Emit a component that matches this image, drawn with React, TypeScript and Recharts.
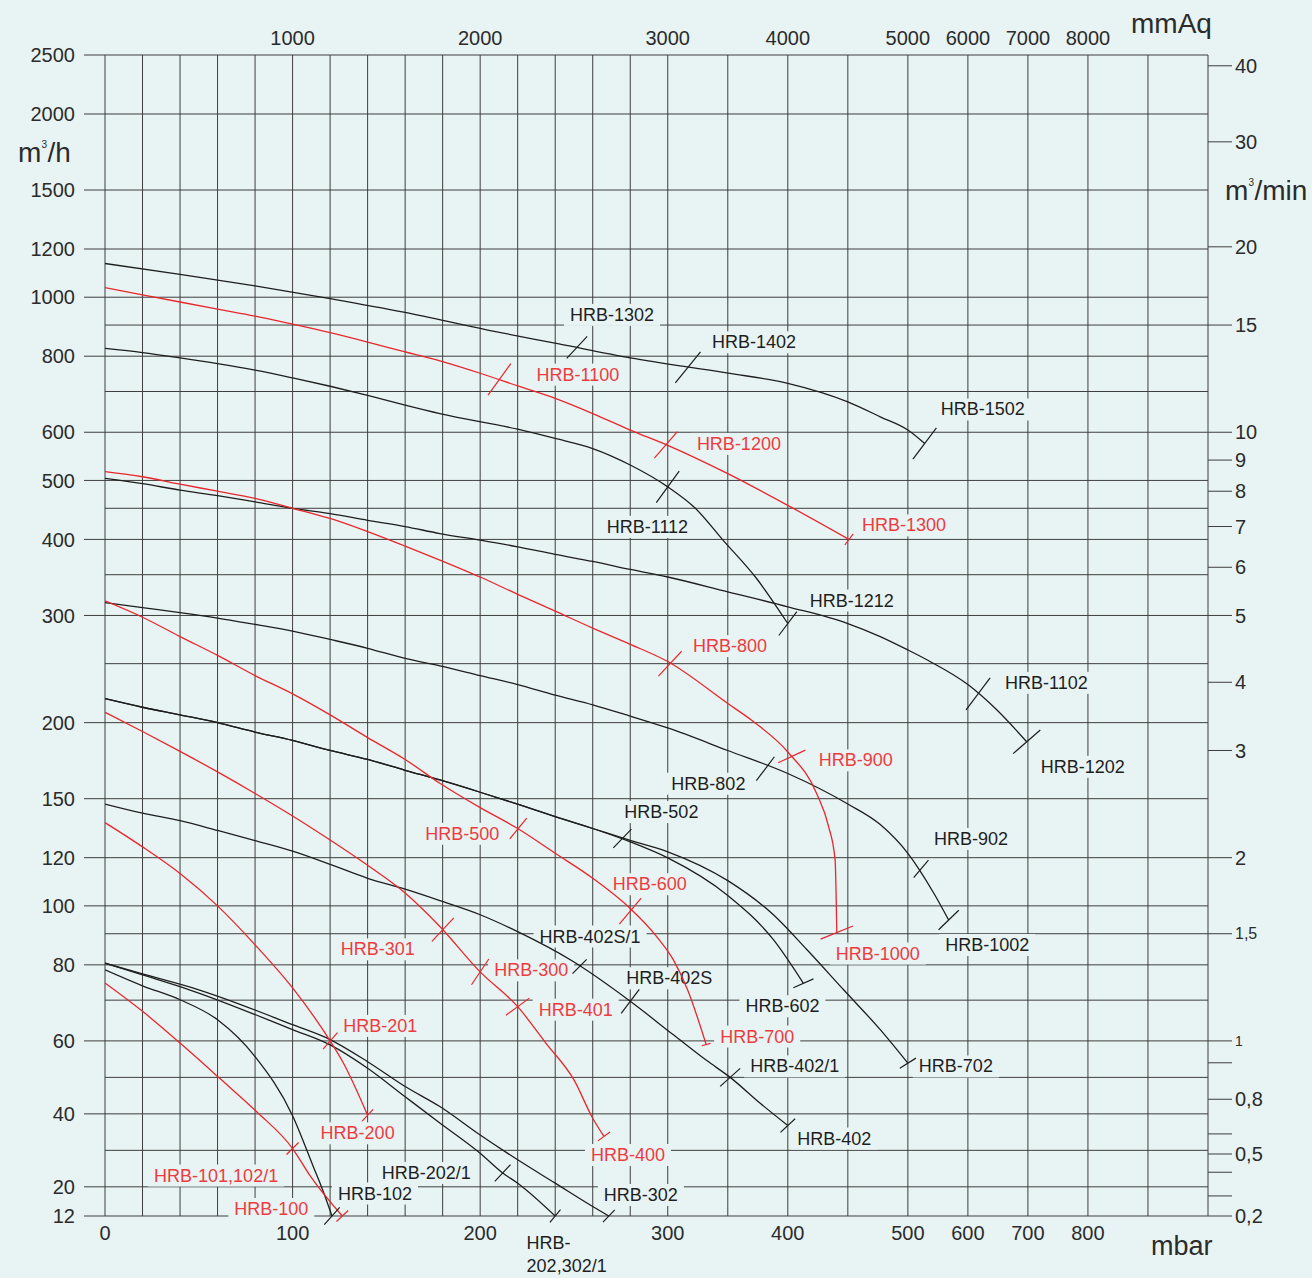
import { LineChart, Line, XAxis, YAxis, CartesianGrid, ReferenceDot } from "recharts";

type Pt = [number, number];

// pressure axis (mbar) and the mmAq labels printed on top
const MBAR_TICKS = [0, 100, 200, 300, 400, 500, 600, 700, 800];
const MMAQ_LABELS = ["", "1000", "2000", "3000", "4000", "5000", "6000", "7000", "8000"];
const MBAR_GRID = [0, 20, 40, 60, 80, 100, 120, 140, 160, 180, 200, 220, 240, 260, 280, 300, 350, 400, 450, 500, 600, 700, 800, 900, 1000];

// flow axis, m3/h on the left, m3/min on the right
const FLOW_TICKS = [12, 20, 40, 60, 80, 100, 120, 150, 200, 300, 400, 500, 600, 800, 1000, 1200, 1500, 2000, 2500];
const FLOW_GRID = [12, 20, 30, 40, 50, 60, 70, 80, 90, 100, 120, 150, 200, 250, 300, 350, 400, 450, 500, 600, 700, 800, 900, 1000, 1200, 1500, 2000, 2500];
const MIN_LABELS = ["40", "30", "20", "15", "10", "9", "8", "7", "6", "5", "4", "3", "2", "1,5", "1", "", "0,8", "", "0,5", "", "", "0,2"];
const MIN_FLOWS = [2400, 1800, 1210, 900, 600, 540, 480, 420, 360, 300, 233, 180, 120, 90, 60, 54, 44, 34.5, 29, 24, 17.5, 12];

// curves: [mbar, m3/h]
const C_1302_1502: Pt[] = [[0, 1136], [40, 1090], [80, 1044], [120, 995], [160, 944], [204, 883], [242, 838], [280, 795], [349, 751], [400, 722], [450, 673], [477, 636], [500, 605], [528, 575]];
const C_1112_1212: Pt[] = [[0, 824], [20, 811], [40, 795], [60, 778], [80, 759], [100, 737], [120, 714], [140, 690], [160, 665], [178.5, 644], [220, 607], [240, 586], [260, 564], [280, 530], [300, 488], [323, 450], [346, 399], [374, 345], [400, 291]];
const C_1102_1202: Pt[] = [[0, 504], [20, 494], [40, 482], [60, 472], [80, 461], [100, 450], [120, 441], [140, 430], [160, 420], [178.5, 409], [200, 399], [220, 389], [240, 378], [260, 368], [280, 357], [300, 347], [350, 328], [400, 310], [450, 291], [477, 277], [500, 263.3], [534, 253], [600, 231], [648, 210], [698, 186]];
const C_802_1002: Pt[] = [[0, 315], [20, 309], [40, 303.3], [60, 297.1], [80, 290], [100, 282.8], [120, 274], [140, 265], [160, 255], [178.5, 248], [200, 239], [220, 231], [240, 222], [260, 214], [280, 205], [300, 196], [350, 180], [400, 165], [450, 147], [477, 136], [500, 122], [543, 105], [568, 94.8]];
const C_502_SHARED: Pt[] = [[0, 219], [20, 212], [40, 206], [60, 200], [80, 193], [100, 187], [120, 180], [140, 174], [160, 167], [178.5, 161], [200, 153.7], [220, 146.9], [240, 140.2], [260, 134]];
const C_602_TAIL: Pt[] = [[280, 127.4], [300, 119.9], [350, 104], [388, 88], [413, 74.6]];
const C_702_TAIL: Pt[] = [[280, 128.1], [300, 122.7], [350, 110], [388, 96.7], [416, 84.7], [446.5, 72.8], [477, 62.6], [500, 53.9]];
const C_402: Pt[] = [[0, 147], [20, 142], [40, 138], [60, 133], [80, 128], [100, 123], [120, 117], [140, 111], [160, 106.5], [178.5, 102], [200, 96.7], [220, 90.7], [249.6, 81], [280, 69.7], [304.7, 61.4], [332.5, 54.6], [352, 50], [377, 42.9], [400, 36.8]];
const C_102: Pt[] = [[0, 78.5], [20, 73.9], [40, 70.1], [60, 65], [80, 55.7], [100, 39.5], [111, 25.6], [116, 19.2], [121, 12]];
const C_302: Pt[] = [[0, 80.5], [20, 77.3], [50, 72.8], [100, 63.8], [120, 60.3], [140, 54.3], [160, 47.5], [178.5, 42], [200, 34.2], [220, 27.4], [240, 21], [260, 14.6], [268.6, 12]];
const C_202_302_1: Pt[] = [[0, 80.5], [20, 77], [45, 72.8], [100, 62.6], [120, 58.9], [140, 52.5], [160, 44.7], [178.5, 37.5], [200, 29.2], [212, 23.8], [220, 21], [240, 12]];
const C_1100_1300: Pt[] = [[0, 1037], [20, 1009], [40, 982], [60, 956], [80, 931], [100, 903], [120, 874.5], [140, 844], [160, 813], [178.5, 786], [200, 750], [220, 715], [240, 682], [260, 644], [280, 605], [300, 571], [350, 513], [400, 455], [451, 400]];
const C_800_1000: Pt[] = [[0, 517], [20, 507], [40, 493], [60, 480], [80, 467], [100, 450], [120, 433], [140, 412], [160, 390], [178.5, 370], [200, 347], [220, 325], [240, 305], [260, 286], [280, 269], [300, 252], [350, 215], [371, 201], [400, 179], [424, 153], [434, 135], [439.4, 119], [440.8, 90.4]];
const C_500_700: Pt[] = [[0, 317], [20, 298], [40, 277], [60, 258], [80, 239], [100, 223], [120, 206], [140, 189], [160, 174], [178.5, 159], [200, 145], [220, 134], [240, 122], [260, 111], [280, 99], [294, 89.1], [304.7, 81.5], [316.5, 72.8], [332, 59]];
const C_301_400: Pt[] = [[0, 208], [20, 193.4], [40, 179.4], [60, 166], [80, 153], [100, 140.5], [120, 128.3], [140, 116.6], [160, 105], [178.5, 92.5], [200, 77.9], [220, 68.3], [235, 59.4], [250, 49.3], [260, 38.8], [266, 33.8]];
const C_201_200: Pt[] = [[0, 137], [20, 125], [40, 113], [60, 100], [80, 86.3], [100, 73.3], [120, 60], [127, 54], [140, 39.6]];
const C_100: Pt[] = [[0, 74.7], [20, 67.1], [40, 59.4], [61, 49.8], [81, 40.5], [100, 30.5], [109, 23.3], [126.5, 12]];

// model marks on the curves: [name, mbar, m3/h]
const BLACK_MARKS: [string, number, number][] = [
  ["HRB-1302", 251.6, 827], ["HRB-1402", 316.8, 767], ["HRB-1502", 528, 575],
  ["HRB-1112", 300, 488], ["HRB-1212", 400, 291],
  ["HRB-1102", 617, 223], ["HRB-1202", 698, 186],
  ["HRB-802", 381.3, 168], ["HRB-902", 522, 115], ["HRB-1002", 568, 94.8],
  ["HRB-502", 275.8, 129], ["HRB-602", 413, 74.6], ["HRB-702", 500, 53.9],
  ["HRB-402S/1", 253, 79.5], ["HRB-402S", 280, 69.7], ["HRB-402/1", 352, 50], ["HRB-402", 400, 36.8],
  ["HRB-202/1", 212, 23.8], ["HRB-102", 121, 12], ["HRB-302", 268.6, 12], ["HRB-202,302/1", 240, 12],
];
const RED_MARKS: [string, number, number][] = [
  ["HRB-1100", 210.3, 733], ["HRB-1200", 299, 572], ["HRB-1300", 451, 400],
  ["HRB-800", 301.9, 250], ["HRB-900", 403.3, 176], ["HRB-1000", 440.8, 90.4],
  ["HRB-500", 220.3, 134], ["HRB-600", 280, 98], ["HRB-700", 332, 59],
  ["HRB-301", 180.1, 91.4], ["HRB-300", 200, 77.9], ["HRB-401", 220, 68.3], ["HRB-400", 266, 33.8],
  ["HRB-201", 120.1, 60], ["HRB-200", 140, 39.6],
  ["HRB-101,102/1", 100, 30.5], ["HRB-100", 126.5, 12],
];

// slash angle (deg), slash length, label offset from the mark (px)
const MARK_STYLE: Record<string, { a: number; l: number; dx: number; dy: number }> = {
  "HRB-1302": { a: 47, l: 30, dx: -7, dy: -26.5 },
  "HRB-1402": { a: 51, l: 40, dx: 24, dy: -19 },
  "HRB-1502": { a: 53, l: 39, dx: 16, dy: -28 },
  "HRB-1112": { a: 54, l: 39, dx: -61, dy: 46 },
  "HRB-1212": { a: 53, l: 30, dx: 22, dy: -17 },
  "HRB-1102": { a: 53, l: 40, dx: 27, dy: -5 },
  "HRB-1202": { a: 41, l: 36, dx: 14, dy: 31 },
  "HRB-802": { a: 53, l: 30, dx: -94, dy: 21 },
  "HRB-902": { a: 50, l: 23, dx: 13, dy: -24 },
  "HRB-1002": { a: 44, l: 28, dx: -3.5, dy: 31 },
  "HRB-502": { a: 46, l: 26, dx: 2, dy: -20.5 },
  "HRB-602": { a: 24, l: 22, dx: -58, dy: 29 },
  "HRB-702": { a: 32, l: 19, dx: 11, dy: 9.3 },
  "HRB-402S/1": { a: 45, l: 20, dx: -40, dy: -24 },
  "HRB-402S": { a: 53, l: 30, dx: -4, dy: -17 },
  "HRB-402/1": { a: 42, l: 27, dx: 20, dy: -5 },
  "HRB-402": { a: 43, l: 20, dx: 9.5, dy: 19 },
  "HRB-202/1": { a: 47, l: 23, dx: -121, dy: 6 },
  "HRB-102": { a: 48, l: 23, dx: 6, dy: -16.5 },
  "HRB-302": { a: 46, l: 17, dx: -5, dy: -15 },
  "HRB-202,302/1": { a: 50, l: 16.5, dx: -28.6, dy: 33 },
  "HRB-1100": { a: 54, l: 39, dx: 37, dy: 1.3 },
  "HRB-1200": { a: 49, l: 35, dx: 31, dy: 5 },
  "HRB-1300": { a: 53, l: 14, dx: 13, dy: -8 },
  "HRB-800": { a: 47, l: 34, dx: 23, dy: -11.6 },
  "HRB-900": { a: 25, l: 30, dx: 27, dy: 10 },
  "HRB-1000": { a: 22, l: 35, dx: -1, dy: 27 },
  "HRB-500": { a: 51, l: 27, dx: -93, dy: 11.3 },
  "HRB-600": { a: 50, l: 34, dx: -17.5, dy: -21 },
  "HRB-700": { a: 15, l: 9, dx: 14, dy: -2 },
  "HRB-301": { a: 47, l: 32, dx: -102, dy: 25.7 },
  "HRB-300": { a: 56, l: 31, dx: 14, dy: 4.5 },
  "HRB-401": { a: 36, l: 29, dx: 21, dy: 9 },
  "HRB-400": { a: 36, l: 15, dx: -13, dy: 24.5 },
  "HRB-201": { a: 49, l: 22, dx: 13, dy: -9 },
  "HRB-200": { a: 47, l: 16, dx: -47, dy: 24 },
  "HRB-101,102/1": { a: 45, l: 17, dx: -138.5, dy: 33 },
  "HRB-100": { a: 43, l: 16, dx: -108, dy: -1 },
};
const LABEL_LINES: Record<string, string[]> = { "HRB-202,302/1": ["HRB-", "202,302/1"] };

const W = 1312;
const H = 1278;
const PLOT_LEFT = 105;
const PLOT_TOP = 55;
const PLOT_RIGHT = 1208;
const PLOT_BOTTOM = 1216;

const BG = "#e8f4f3";
const INK = "#1e1e1e";
const TXT = "#2b2b2b";
const RED = "#e9262c";
const RED_TXT = "#ee3b40";
const GRID = "#3e3e3e";
const FONT = "'Liberation Sans', Arial, Helvetica, sans-serif";

// broken scales: pressure is piecewise linear, flow is log above 60 m3/h and linear below
const tx = (m: number) => (m <= 300 ? m * 1.875 : m <= 500 ? 562.5 + (m - 300) * 1.2 : 802.5 + (m - 500) * 0.6);
const ty = (q: number) => (q >= 60 ? 175.2 + 609 * Math.log10(q / 60) : (q - 12) * 3.65);
const X_MAX = tx(1000);
const Y_MAX = ty(2500);

const rows = (pts: Pt[]) => pts.map(([m, q]) => ({ x: tx(m), y: ty(q) }));
const pick = <T,>(vals: number[], f: (v: number) => number, u: number, out: T[]) =>
  out[vals.findIndex((v) => Math.abs(f(v) - u) < 0.01)];

const CURVES = [
  { id: "1302", color: INK, pts: C_1302_1502 },
  { id: "1112", color: INK, pts: C_1112_1212 },
  { id: "1102", color: INK, pts: C_1102_1202 },
  { id: "802", color: INK, pts: C_802_1002 },
  { id: "602", color: INK, pts: [...C_502_SHARED, ...C_602_TAIL] },
  { id: "702", color: INK, pts: [...C_502_SHARED, ...C_702_TAIL] },
  { id: "402", color: INK, pts: C_402 },
  { id: "102", color: INK, pts: C_102 },
  { id: "302", color: INK, pts: C_302 },
  { id: "202", color: INK, pts: C_202_302_1 },
  { id: "1100", color: RED, pts: C_1100_1300 },
  { id: "800", color: RED, pts: C_800_1000 },
  { id: "500", color: RED, pts: C_500_700 },
  { id: "301", color: RED, pts: C_301_400 },
  { id: "201", color: RED, pts: C_201_200 },
  { id: "100", color: RED, pts: C_100 },
];

const MARKS = [
  ...BLACK_MARKS.map(([name, m, q]) => ({ name, m, q, red: false })),
  ...RED_MARKS.map(([name, m, q]) => ({ name, m, q, red: true })),
];

const CW: Record<string, number> = { H: 0.722, R: 0.722, B: 0.667, S: 0.667, "-": 0.333, ",": 0.278, "/": 0.278 };
const textWidth = (s: string, size: number) => s.split("").reduce((a, c) => a + (CW[c] ?? 0.556), 0) * size;

function slash(name: string, color: string) {
  return (p: any) => {
    const s = MARK_STYLE[name];
    const r = (s.a * Math.PI) / 180;
    const hx = (Math.cos(r) * s.l) / 2;
    const hy = (Math.sin(r) * s.l) / 2;
    return <line x1={p.cx - hx} y1={p.cy + hy} x2={p.cx + hx} y2={p.cy - hy} stroke={color} strokeWidth={1.2} />;
  };
}

function tag(name: string, color: string) {
  return (p: any) => {
    const s = MARK_STYLE[name];
    const lines = LABEL_LINES[name] ?? [name];
    const x = p.cx + s.dx;
    const y = p.cy + s.dy;
    const w = Math.max(...lines.map((t) => textWidth(t, 18)));
    return (
      <g>
        <rect x={x - 6} y={y - 17} width={w + 12} height={22 + (lines.length - 1) * 23.3} fill={BG} />
        {lines.map((t, i) => (
          <text key={i} x={x} y={y + i * 23.3} fontSize={18} fontFamily={FONT} fill={color}>
            {t}
          </text>
        ))}
      </g>
    );
  };
}

function RightTick(props: any) {
  const { x, y, payload } = props;
  const label = pick(MIN_FLOWS, ty, payload.value, MIN_LABELS) ?? "";
  const size = label === "1" ? 14 : label === "1,5" ? 16 : 20;
  return (
    <text x={x} y={y} dy="0.36em" textAnchor="start" fontSize={size} fontFamily={FONT} fill={TXT}>
      {label}
    </text>
  );
}

const tickFont = { fontSize: 20, fontFamily: FONT, fill: TXT };

export default function App() {
  return (
    <div style={{ position: "absolute", left: 0, top: 0, width: W, height: H, background: BG }}>
      <LineChart width={W} height={H} margin={{ top: 0, right: 0, bottom: 0, left: 0 }}>
        <XAxis
          xAxisId="b"
          type="number"
          dataKey="x"
          domain={[0, X_MAX]}
          allowDataOverflow
          ticks={MBAR_TICKS.map(tx)}
          interval={0}
          tickFormatter={(u: number) => String(pick(MBAR_TICKS, tx, u, MBAR_TICKS))}
          height={H - PLOT_BOTTOM}
          tickLine={false}
          axisLine={false}
          tickSize={0}
          tickMargin={10}
          tick={tickFont}
        />
        <XAxis
          xAxisId="t"
          orientation="top"
          type="number"
          dataKey="x"
          domain={[0, X_MAX]}
          allowDataOverflow
          ticks={MBAR_TICKS.map(tx)}
          interval={0}
          tickFormatter={(u: number) => pick(MBAR_TICKS, tx, u, MMAQ_LABELS)}
          height={PLOT_TOP}
          tickLine={false}
          axisLine={false}
          tickSize={0}
          tickMargin={10}
          tick={tickFont}
        />
        <YAxis
          yAxisId="l"
          type="number"
          domain={[0, Y_MAX]}
          allowDataOverflow
          ticks={FLOW_TICKS.map(ty)}
          interval={0}
          tickFormatter={(u: number) => String(pick(FLOW_TICKS, ty, u, FLOW_TICKS))}
          width={PLOT_LEFT}
          axisLine={false}
          tickLine={{ stroke: GRID }}
          tickSize={21}
          tickMargin={9}
          tick={tickFont}
        />
        <YAxis
          yAxisId="r"
          orientation="right"
          type="number"
          domain={[0, Y_MAX]}
          allowDataOverflow
          ticks={MIN_FLOWS.map(ty)}
          interval={0}
          width={W - PLOT_RIGHT}
          axisLine={false}
          tickLine={{ stroke: GRID }}
          tickSize={24}
          tickMargin={3}
          tick={<RightTick />}
        />
        <CartesianGrid
          xAxisId="b"
          yAxisId="l"
          stroke={GRID}
          horizontalValues={FLOW_GRID.map(ty)}
          verticalValues={MBAR_GRID.map(tx)}
        />
        {MARKS.map((k) => (
          <ReferenceDot
            key={"t" + k.name}
            xAxisId="b"
            yAxisId="l"
            x={tx(k.m)}
            y={ty(k.q)}
            ifOverflow="visible"
            zIndex={-50}
            shape={tag(k.name, k.red ? RED_TXT : INK)}
          />
        ))}
        {CURVES.map((c) => (
          <Line
            key={c.id}
            xAxisId="b"
            yAxisId="l"
            data={rows(c.pts)}
            dataKey="y"
            type="monotone"
            stroke={c.color}
            strokeWidth={1.3}
            dot={false}
            activeDot={false}
            isAnimationActive={false}
          />
        ))}
        {MARKS.map((k) => (
          <ReferenceDot
            key={"m" + k.name}
            xAxisId="b"
            yAxisId="l"
            x={tx(k.m)}
            y={ty(k.q)}
            ifOverflow="visible"
            shape={slash(k.name, k.red ? RED : INK)}
          />
        ))}
      </LineChart>
      <svg width={W} height={H} style={{ position: "absolute", left: 0, top: 0, pointerEvents: "none" }}>
        <g fontFamily={FONT} fontSize={28} fill={TXT}>
          <text x={18} y={161.7}>m</text>
          <text x={41.5} y={148} fontSize={10}>3</text>
          <text x={47.5} y={161.7}>/h</text>
          <text x={1225} y={200}>m</text>
          <text x={1248.5} y={186} fontSize={10}>3</text>
          <text x={1254.5} y={200}>/min</text>
          <text x={1131} y={33.3}>mmAq</text>
          <text x={1151} y={1255} fontSize={27}>mbar</text>
        </g>
      </svg>
    </div>
  );
}
